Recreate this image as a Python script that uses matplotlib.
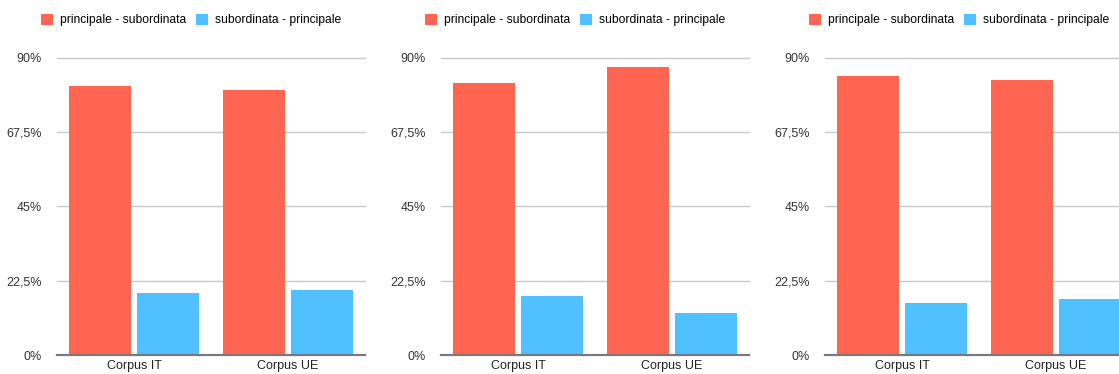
import matplotlib
matplotlib.use("Agg")
import matplotlib.pyplot as plt
import numpy as np
from matplotlib.patches import Patch

plt.rcParams['font.family'] = ['Liberation Sans', 'DejaVu Sans']

categories = ["Corpus IT", "Corpus UE"]
series_names = ["principale - subordinata", "subordinata - principale"]
# one pair of series per panel
panel_main_sub = [[81.3, 80.2], [82.2, 87.2], [84.3, 83.1]]
panel_sub_main = [[18.7, 19.8], [17.8, 12.8], [15.7, 16.9]]
yticks = [0, 22.5, 45, 67.5, 90]
ytick_labels = ["0%", "22,5%", "45%", "67,5%", "90%"]

colors = ["#FF6550", "#50C0FF"]
W, H = 1119, 374
fig = plt.figure(figsize=(W / 100, H / 100), dpi=100)

lefts = [57, 441, 825]
ax_w = 308
bottom = 19
height = 297.5

x = np.arange(len(categories))
bw = 0.4
off = 0.222

for i, left in enumerate(lefts):
    ax = fig.add_axes([left / W, bottom / H, ax_w / W, height / H])
    ax.set_xlim(-0.5, 1.5)
    ax.set_ylim(0, 90)
    ax.bar(x - off, panel_main_sub[i], width=bw, color=colors[0], zorder=3)
    ax.bar(x + off, panel_sub_main[i], width=bw, color=colors[1], zorder=3)
    ax.set_yticks(yticks)
    ax.set_yticklabels(ytick_labels)
    ax.set_xticks(x)
    ax.set_xticklabels(categories)
    for y in yticks[1:]:
        ax.axhline(y, color="#c9c9c9", lw=1.0, zorder=1, clip_on=False)
    ax.axhline(0, color="#7a7a7a", lw=1.6, zorder=4, clip_on=False)
    for s in ax.spines.values():
        s.set_visible(False)
    ax.tick_params(axis='y', length=0, pad=11, labelsize=9, labelcolor="#333333")
    ax.tick_params(axis='x', length=0, pad=3.5, labelsize=9, labelcolor="#222222")
    handles = [Patch(facecolor=colors[0]), Patch(facecolor=colors[1])]
    cx = (left + ax_w / 2 - 20) / W
    fig.legend(handles, series_names, loc='center', bbox_to_anchor=(cx, 1 - 20 / H),
               ncol=2, frameon=False, fontsize=8.7, handlelength=1.0, handleheight=1.0,
               handletextpad=0.55, columnspacing=0.8, borderaxespad=0, borderpad=0)

fig.savefig("out.png", dpi=100)
